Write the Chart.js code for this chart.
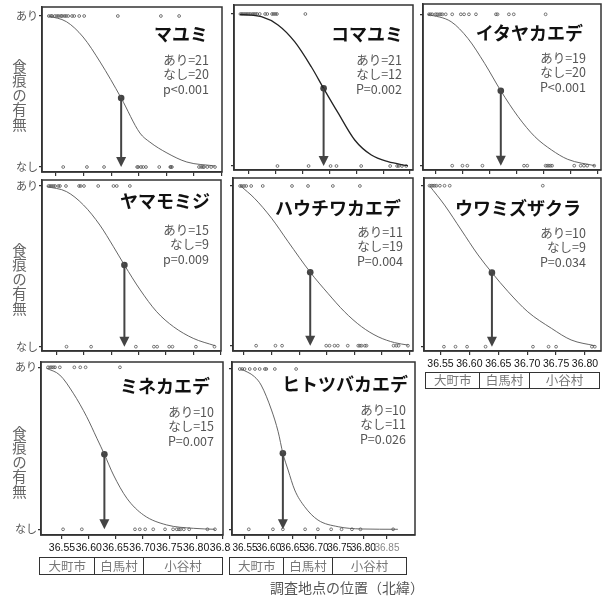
<!DOCTYPE html>
<html><head><meta charset="utf-8">
<script src="https://cdn.jsdelivr.net/npm/chart.js@4/dist/chart.umd.min.js"></script>
<style>
html,body{margin:0;padding:0;background:#fff;}
#wrap{position:relative;width:605px;height:600px;overflow:hidden;font-family:'Noto Sans CJK JP','Noto Sans',sans-serif;background:#fff;}
canvas{position:absolute;}
.tt{position:absolute;white-space:nowrap;font-weight:bold;font-size:18px;line-height:22px;color:#111;text-align:right;}
.st{position:absolute;white-space:nowrap;font-size:12.5px;line-height:14.5px;color:#555;text-align:right;}
.yt{position:absolute;writing-mode:vertical-rl;text-orientation:upright;font-size:14.5px;line-height:15px;color:#666;letter-spacing:0;}
.loc{position:absolute;box-sizing:border-box;border:1.5px solid #333;display:flex;}
.loc div{box-sizing:border-box;text-align:center;color:#777;font-size:12.5px;}
.loc div+div{border-left:1.5px solid #333;}
.xt{position:absolute;white-space:nowrap;font-size:14px;line-height:18px;color:#555;}
</style></head><body><div id="wrap"></div>
<script>
// ---- data ----
const species = ['マユミ','コマユミ','イタヤカエデ','ヤマモミジ','ハウチワカエデ','ウワミズザクラ','ミネカエデ','ヒトツバカエデ'];
const nPresent = [21,21,19,15,11,10,10,10];
const nAbsent = [20,12,20,9,19,9,15,11];
const pText = ['p<0.001','P=0.002','P<0.001','p=0.009','P=0.004','P=0.034','P=0.007','P=0.026'];
const presentLabel = 'あり';
const absentLabel = 'なし';
const yTitle = '食痕の有無';
const xTitle = '調査地点の位置（北緯）';
const regions = ['大町市','白馬村','小谷村'];
const tickLatFull = [36.55,36.60,36.65,36.70,36.75,36.80,36.85];
const tickLatShort = [36.55,36.60,36.65,36.70,36.75,36.80];
const yTickValues = [0,1];

const presentLat = [
 [36.537,36.541,36.543,36.548,36.552,36.555,36.559,36.561,36.565,36.568,36.572,36.579,36.583,36.592,36.601,36.662,36.740,36.773],
 [36.534,36.537,36.540,36.543,36.546,36.549,36.552,36.556,36.559,36.562,36.565,36.570,36.580,36.584,36.593,36.596,36.599,36.602,36.655],
 [36.537,36.540,36.543,36.549,36.552,36.556,36.559,36.562,36.568,36.580,36.596,36.602,36.611,36.624,36.661,36.664,36.685,36.694,36.753],
 [36.535,36.538,36.541,36.544,36.547,36.553,36.556,36.567,36.591,36.594,36.600,36.626,36.654,36.660,36.684],
 [36.543,36.546,36.550,36.554,36.563,36.584,36.637,36.666,36.711,36.760],
 [36.531,36.534,36.537,36.540,36.543,36.549,36.557,36.566,36.727],
 [36.524,36.528,36.531,36.534,36.537,36.546,36.573,36.584,36.594,36.658],
 [36.539,36.544,36.549,36.560,36.571,36.581,36.592,36.595,36.613,36.658]
];
const absentLat = [
 [36.563,36.606,36.637,36.697,36.699,36.704,36.708,36.713,36.737,36.757,36.758,36.760,36.809,36.813,36.816,36.818,36.824,36.831,36.838],
 [36.603,36.661,36.702,36.713,36.759,36.813,36.826,36.829,36.835,36.843],
 [36.580,36.599,36.608,36.636,36.713,36.719,36.753,36.756,36.759,36.762,36.765,36.806,36.818,36.824,36.830,36.843],
 [36.568,36.613,36.695,36.728,36.734,36.756,36.762,36.805,36.839],
 [36.572,36.607,36.619,36.699,36.705,36.714,36.720,36.738,36.757,36.760,36.763,36.769,36.772,36.821,36.826,36.830,36.847],
 [36.556,36.576,36.596,36.628,36.710,36.737,36.750,36.812,36.817],
 [36.552,36.587,36.686,36.695,36.705,36.720,36.742,36.757,36.764,36.768,36.771,36.777,36.787,36.821,36.835],
 [36.558,36.609,36.630,36.677,36.704,36.732,36.754,36.776,36.794,36.863]
];
const curveLat = [
 [36.536,36.569,36.599,36.630,36.668,36.702,36.720,36.751,36.787,36.838],
 [36.533,36.573,36.604,36.635,36.666,36.689,36.716,36.747,36.778,36.809,36.846],
 [36.535,36.578,36.609,36.640,36.670,36.702,36.733,36.764,36.794,36.844],
 [36.532,36.568,36.599,36.629,36.654,36.674,36.703,36.733,36.764,36.800,36.840],
 [36.544,36.569,36.600,36.630,36.670,36.702,36.732,36.763,36.793,36.823,36.847],
 [36.531,36.557,36.586,36.615,36.639,36.667,36.701,36.742,36.776,36.817],
 [36.521,36.546,36.571,36.596,36.615,36.629,36.646,36.671,36.702,36.745,36.795,36.835],
 [36.542,36.570,36.584,36.606,36.620,36.630,36.641,36.655,36.676,36.704,36.747,36.796,36.873]
];
const curveProb = [
 [1.0,0.962,0.861,0.695,0.457,0.225,0.165,0.093,0.033,0.007],
 [0.998,0.982,0.928,0.818,0.653,0.511,0.349,0.171,0.072,0.028,0.002],
 [1.0,0.951,0.841,0.676,0.495,0.324,0.192,0.104,0.042,0.0],
 [0.996,0.965,0.882,0.757,0.622,0.508,0.353,0.218,0.124,0.052,0.006],
 [1.0,0.923,0.798,0.651,0.460,0.328,0.213,0.119,0.056,0.019,0.004],
 [1.0,0.880,0.725,0.570,0.460,0.342,0.217,0.114,0.042,0.006],
 [0.994,0.952,0.840,0.695,0.562,0.463,0.335,0.191,0.088,0.027,0.006,0.0],
 [1.0,0.952,0.900,0.744,0.609,0.474,0.370,0.245,0.141,0.058,0.016,0.002,0.0]
];
const thresholdLat = [36.668,36.689,36.670,36.674,36.670,36.639,36.629,36.630];
const thresholdProb = [0.457,0.511,0.495,0.508,0.460,0.460,0.463,0.474];

// ---- layout (positions / scale ranges) ----
const layout = [
 {box:[42,7,222,172],   xr:[36.5246,36.8507], yr:[-0.0331,1.0596], col0:true,  xlab:false, ticks:tickLatFull},
 {box:[234,5,413,170],  xr:[36.5220,36.8556], yr:[-0.0263,1.0592], col0:false, xlab:false, ticks:tickLatFull, dark:true},
 {box:[423,4,601,170],  xr:[36.5259,36.8556], yr:[-0.0284,1.068],  col0:false, xlab:false, ticks:tickLatFull},
 {box:[42,180,221,351], xr:[36.5231,36.8509], yr:[-0.0268,1.0373], col0:true,  xlab:false, ticks:tickLatFull},
 {box:[233,178,413,351],xr:[36.5301,36.8562], yr:[-0.0332,1.050],  col0:false, xlab:false, ticks:tickLatFull},
 {box:[424,178,601,351],xr:[36.5215,36.8277], yr:[-0.0267,1.048],  col0:false, xlab:true,  ticks:tickLatShort, fs:10.5},
 {box:[41,362,223,535], xr:[36.5109,36.8500], yr:[-0.0352,1.0327], col0:true,  xlab:true,  ticks:tickLatFull, fs:10.5},
 {box:[232,362,415,535],xr:[36.5225,36.9092], yr:[-0.0356,1.0437], col0:false, xlab:true,  ticks:tickLatFull, fs:10, greyLast:true, cover:true}
];
const titlePos = [[208,33],[403,33],[583,32],[210,200],[401,207],[581,207],[210,385],[408,383]];
const statPos = [[209,60],[402,60],[586,58],[209,230],[403,232],[586,233],[214,412],[406,410]];
const yTitlePos = [96,280,463];
const locBoxes = [
 {x:425,y:372,h:17,w:[54,50,71]},
 {x:39,y:557,h:18,w:[55,49,80]},
 {x:229,y:557,h:18,w:[54,49,75]}
];

const wrap = document.getElementById('wrap');
const INK = '#444';

const framePlugin = {
  id:'frame',
  afterDraw(chart){
    const a = chart.chartArea, c = chart.ctx;
    c.save(); c.strokeStyle = '#333'; c.lineWidth = 1.5;
    c.strokeRect(a.left, a.top, a.right - a.left, a.bottom - a.top);
    c.restore();
  }
};
const arrowPlugin = {
  id:'arrow',
  afterDatasetsDraw(chart){
    const i = chart.options.panelIndex;
    const xs = chart.scales.x, ys = chart.scales.y, c = chart.ctx;
    const px = xs.getPixelForValue(thresholdLat[i]);
    const py0 = ys.getPixelForValue(thresholdProb[i]);
    const py1 = ys.getPixelForValue(0);
    c.save();
    c.strokeStyle = INK; c.fillStyle = INK; c.lineWidth = 2;
    c.beginPath(); c.moveTo(px, py0); c.lineTo(px, py1 - 8); c.stroke();
    c.beginPath(); c.moveTo(px - 5, py1 - 10); c.lineTo(px + 5, py1 - 10); c.lineTo(px, py1); c.closePath(); c.fill();
    c.restore();
  }
};
const coverPlugin = {
  id:'cover',
  beforeDraw(chart){
    if (!chart.options.coverLeft) return;
    const c = chart.ctx, a = chart.chartArea;
    c.save(); c.fillStyle = '#fff';
    c.fillRect(5, a.bottom + 1, chart.width, chart.height);
    c.restore();
  }
};

function makePanel(i){
  const Lp = layout[i];
  const [bl, bt, br, bb] = Lp.box;
  const padL = Lp.col0 ? bl - 12 : 6;
  const padT = 10, padR = Lp.xlab ? 20 : 6, padB = Lp.xlab ? 22 : 12;
  const W = padL + (br - bl) + padR, H = padT + (bb - bt) + padB;
  const cv = document.createElement('canvas');
  cv.width = W; cv.height = H;
  cv.style.left = (bl - padL) + 'px'; cv.style.top = (bt - padT) + 'px';
  cv.style.width = W + 'px'; cv.style.height = H + 'px';
  wrap.appendChild(cv);
  const ptStyle = {pointRadius:1.4, borderWidth:0.8, borderColor:'#555', backgroundColor:'rgba(255,255,255,0)', showLine:false};
  new Chart(cv, {
    type:'scatter',
    data:{datasets:[
      {type:'line', data: curveLat[i].map((x,j)=>({x, y:curveProb[i][j]})), borderColor: Lp.dark ? '#222' : '#555',
       borderWidth: Lp.dark ? 1.3 : 0.9, pointRadius:0, cubicInterpolationMode:'monotone', fill:false},
      Object.assign({data: presentLat[i].map(x=>({x, y:1}))}, ptStyle),
      Object.assign({data: absentLat[i].map(x=>({x, y:0}))}, ptStyle),
      {data:[{x:thresholdLat[i], y:thresholdProb[i]}], pointRadius:3.3, backgroundColor:INK, borderColor:INK, borderWidth:0}
    ]},
    options:{
      panelIndex:i, coverLeft: !!Lp.cover,
      responsive:false, animation:false, devicePixelRatio:1,
      layout:{padding:{left:0, top:padT, right:padR, bottom:0}},
      plugins:{legend:{display:false}, tooltip:{enabled:false}},
      scales:{
        x:{type:'linear', min:Lp.xr[0], max:Lp.xr[1],
           afterBuildTicks:s=>{ s.ticks = Lp.ticks.map(v=>({value:v})); },
           afterFit:s=>{ s.height = padB; },
           grid:{drawOnChartArea:false, drawTicks:true, tickLength:4, color:'#333', lineWidth:1.2},
           border:{display:true, color:'#333', width:1.5},
           ticks:{display:Lp.xlab, autoSkip:false, maxRotation:0, minRotation:0, padding:3,
                  font:{family:"'Liberation Sans',Arial,sans-serif", size:Lp.fs || 10.5},
                  color:(ctx)=> (Lp.greyLast && ctx.tick && ctx.tick.value > 36.84) ? '#888' : '#111',
                  callback:v=>Number(v).toFixed(2)}},
        y:{type:'linear', min:Lp.yr[0], max:Lp.yr[1],
           afterBuildTicks:s=>{ s.ticks = yTickValues.map(v=>({value:v})); },
           afterFit:s=>{ s.width = padL; },
           grid:{drawOnChartArea:false, drawTicks:true, tickLength:3, color:'#333', lineWidth:1.2},
           border:{display:true, color:'#333', width:1.5},
           ticks:{display:Lp.col0, padding:1, font:{family:"'Noto Sans CJK JP',sans-serif", size:11}, color:'#555',
                  callback:v=> v === 1 ? presentLabel : (v === 0 ? absentLabel : '')}}
      }
    },
    plugins:[coverPlugin, framePlugin, arrowPlugin]
  });
}
for (let i = 0; i < 8; i++) makePanel(i);

// ---- text overlays ----
function addDiv(cls, html, style){
  const d = document.createElement('div'); d.className = cls; d.innerHTML = html;
  Object.assign(d.style, style); wrap.appendChild(d); return d;
}
for (let i = 0; i < 8; i++){
  addDiv('tt', species[i], {right:(605 - titlePos[i][0]) + 'px', top:(titlePos[i][1] - 11) + 'px'});
  addDiv('st', presentLabel + '=' + nPresent[i] + '<br>' + absentLabel + '=' + nAbsent[i] + '<br>' + pText[i].replace('<','&lt;'),
         {right:(605 - statPos[i][0]) + 'px', top:(statPos[i][1] - 7.25) + 'px'});
}
yTitlePos.forEach(cy => addDiv('yt', yTitle, {left:'12px', top:(cy - 37) + 'px'}));
locBoxes.forEach(b => {
  const tot = b.w.reduce((a,c)=>a+c,0);
  const d = addDiv('loc', '', {left:b.x + 'px', top:b.y + 'px', width:tot + 'px', height:b.h + 'px'});
  regions.forEach((r,k) => {
    const c = document.createElement('div'); c.textContent = r;
    c.style.width = b.w[k] + 'px'; c.style.lineHeight = (b.h - 3) + 'px';
    d.appendChild(c);
  });
});
const xt = addDiv('xt', xTitle, {left:'270px', top:'578px'});
</script></body></html>
